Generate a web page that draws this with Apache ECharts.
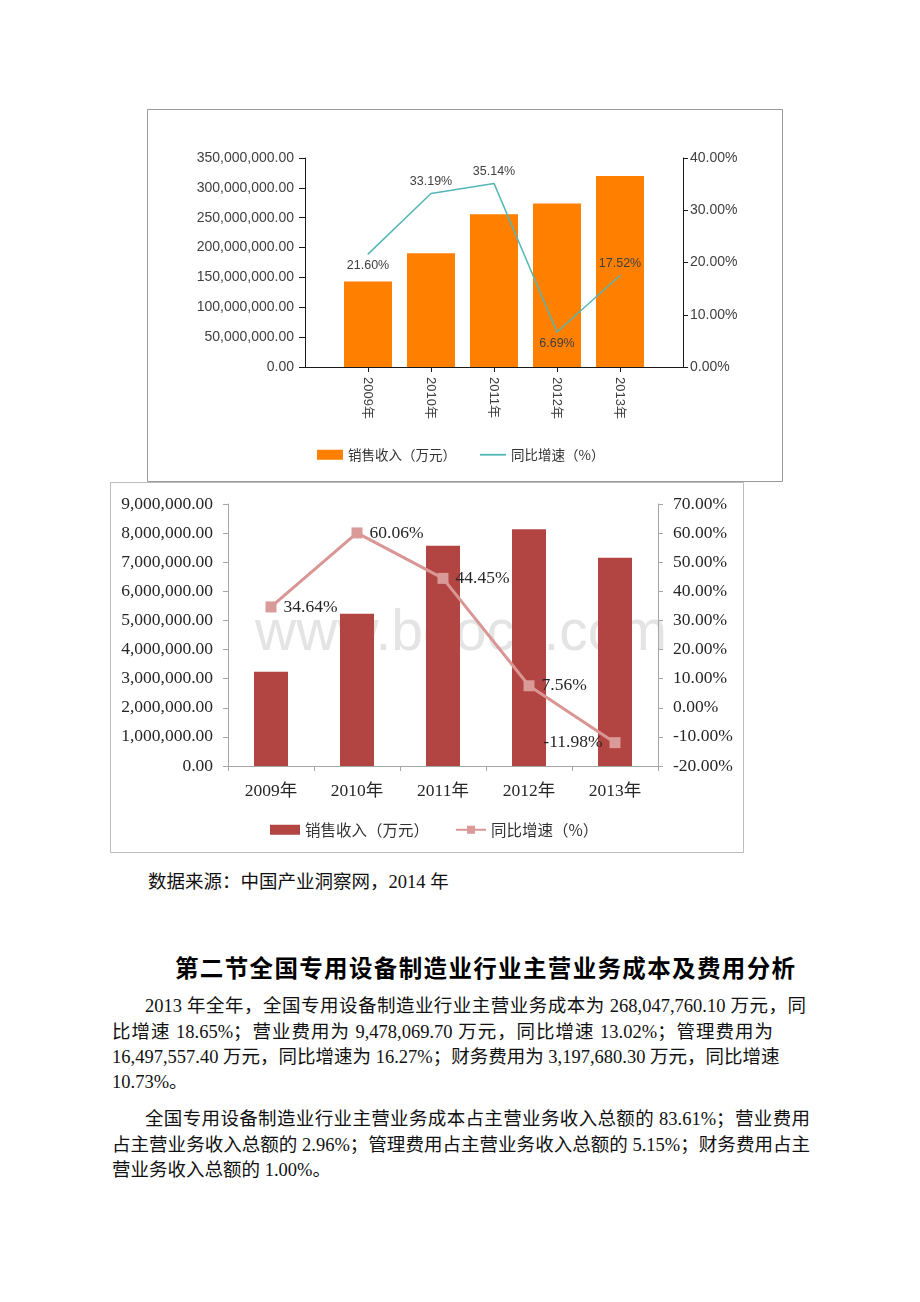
<!DOCTYPE html>
<html>
<head>
<meta charset="utf-8">
<script src="https://cdn.jsdelivr.net/npm/echarts@6/dist/echarts.min.js"></script>
<style>
  html, body { margin: 0; padding: 0; background: #fff; }
  #page { position: relative; width: 920px; height: 1302px; overflow: hidden; background: #fff; }
  #c1 { position: absolute; left: 147px; top: 109px; width: 636px; height: 373px; }
  #c2 { position: absolute; left: 110px; top: 482px; width: 634px; height: 371px; }
  .t { position: absolute; white-space: nowrap; font-family: "Liberation Serif", "Noto Sans CJK SC", serif; font-size: 18.5px; line-height: 22px; color: #111; }
  .j { text-align: justify; text-align-last: justify; }
  .h { position: absolute; white-space: nowrap; font-family: "Noto Sans CJK SC", sans-serif; font-weight: 700; font-size: 23.5px; line-height: 30px; color: #000; text-align: justify; text-align-last: justify; }
</style>
</head>
<body>
<div id="page">
  <div id="c1"></div>
  <div id="c2"></div>
  <div class="t" style="left:148px;top:871px;">数据来源：中国产业洞察网，2014 年</div>
  <div class="h" style="left:175px;top:952px;width:620px;">第二节全国专用设备制造业行业主营业务成本及费用分析</div>
  <div class="t j" style="left:145px;top:995px;width:661px;">2013 年全年，全国专用设备制造业行业主营业务成本为 268,047,760.10 万元，同</div>
  <div class="t j" style="left:112px;top:1021px;width:661px;">比增速 18.65%；营业费用为 9,478,069.70 万元，同比增速 13.02%；管理费用为</div>
  <div class="t j" style="left:112px;top:1046px;width:663px;">16,497,557.40 万元，同比增速为 16.27%；财务费用为 3,197,680.30 万元，同比增速</div>
  <div class="t" style="left:112px;top:1071px;">10.73%。</div>
  <div class="t j" style="left:145px;top:1108px;width:665px;">全国专用设备制造业行业主营业务成本占主营业务收入总额的 83.61%；营业费用</div>
  <div class="t j" style="left:112px;top:1134px;width:698px;">占主营业务收入总额的 2.96%；管理费用占主营业务收入总额的 5.15%；财务费用占主</div>
  <div class="t" style="left:112px;top:1159px;">营业务收入总额的 1.00%。</div>
</div>
<script>
// ---------- data ----------
const years = ['2009年', '2010年', '2011年', '2012年', '2013年'];
// Chart 1 (top)
const sales1 = [143000000, 190600000, 256000000, 273600000, 320000000];
const growth1 = [21.60, 33.19, 35.14, 6.69, 17.52];
// Chart 2 (bottom)
const sales2 = [3235000, 5230000, 7565000, 8134000, 7154000];
const growth2 = [34.64, 60.06, 44.45, 7.56, -11.98];
const seriesNames = ['销售收入（万元）', '同比增速（%）'];

const fmtNum = v => Number(v).toLocaleString('en-US', { minimumFractionDigits: 2, maximumFractionDigits: 2 });
const fmtPct = v => Number(v).toFixed(2) + '%';

// ---------- chart 1 ----------
const pad = arr => [null].concat(arr, [null]);
const cats1 = [''].concat(years, ['']);
const labelPos1 = ['bottom', 'top', 'top', 'bottom', 'top'];
const sans = '"Liberation Sans", "Noto Sans CJK SC", sans-serif';

const chart1 = echarts.init(document.getElementById('c1'), null, { renderer: 'canvas' });
chart1.setOption({
  animation: false,
  backgroundColor: '#fff',
  graphic: [{ type: 'rect', shape: { x: 0.5, y: 0.5, width: 635, height: 372 }, style: { fill: 'none', stroke: '#9a9a9a', lineWidth: 1 }, silent: true }],
  grid: { left: 158, top: 49, width: 378, height: 209 },
  legend: {
    left: 165, top: 334, itemWidth: 26, itemHeight: 10, itemGap: 24,
    textStyle: { fontSize: 13.5, color: '#333', fontFamily: '"Noto Sans CJK SC", sans-serif' },
    data: [
      { name: seriesNames[0], icon: 'rect' },
      { name: seriesNames[1], icon: 'path://M0,0H26V1.8H0Z' }
    ]
  },
  xAxis: {
    type: 'category', data: cats1, boundaryGap: false,
    axisLine: { lineStyle: { color: '#1a1a1a', width: 1 } },
    axisTick: { show: true, length: 5, interval: i => i > 0 && i < cats1.length - 1, lineStyle: { color: '#1a1a1a' } },
    axisLabel: { rotate: -90, margin: 10, interval: 0, fontSize: 13, color: '#404040', fontFamily: sans }
  },
  yAxis: [
    {
      type: 'value', min: 0, max: 350000000, interval: 50000000,
      axisLine: { show: true, lineStyle: { color: '#1a1a1a' } },
      axisTick: { show: true, length: 6, lineStyle: { color: '#1a1a1a' } },
      splitLine: { show: false },
      axisLabel: { formatter: fmtNum, margin: 11, fontSize: 14, color: '#404040', fontFamily: sans }
    },
    {
      type: 'value', min: 0, max: 40, interval: 10, position: 'right',
      axisLine: { show: true, lineStyle: { color: '#1a1a1a' } },
      axisTick: { show: true, length: 5, lineStyle: { color: '#1a1a1a' } },
      splitLine: { show: false },
      axisLabel: { formatter: fmtPct, margin: 7, fontSize: 14, color: '#404040', fontFamily: sans }
    }
  ],
  series: [
    {
      name: seriesNames[0], type: 'bar', data: pad(sales1), barWidth: 48,
      itemStyle: { color: '#ff7f00' }, z: 2
    },
    {
      name: seriesNames[1], type: 'line', yAxisIndex: 1, z: 3,
      data: pad(growth1.map((v, i) => ({ value: v, label: { position: labelPos1[i] } }))),
      symbol: 'circle', symbolSize: 1, showSymbol: true,
      lineStyle: { color: '#55b6b6', width: 1.5 }, itemStyle: { color: '#55b6b6' },
      label: { show: true, formatter: p => fmtPct(p.value), fontSize: 12.5, color: '#404040', fontFamily: sans, distance: 5 }
    }
  ]
});

// ---------- chart 2 ----------
const labelPos2 = ['right', 'right', 'right', 'right', 'left'];
const serif = '"Liberation Serif", "Noto Sans CJK SC", serif';
const chart2 = echarts.init(document.getElementById('c2'), null, { renderer: 'canvas' });
chart2.setOption({
  animation: false,
  backgroundColor: '#fff',
  graphic: [
    { type: 'rect', shape: { x: 0.5, y: 0.5, width: 633, height: 370 }, style: { fill: 'none', stroke: '#bdbdbd', lineWidth: 1 }, silent: true, z: 100 },
    { type: 'text', x: 351, y: 152, z: 0, silent: true,
      style: { text: 'www.bdocx.com', font: '57px "Liberation Sans"', fill: '#e4e4e4', align: 'center', verticalAlign: 'middle' } }
  ],
  grid: { left: 118, top: 22, width: 430, height: 262 },
  legend: {
    left: 155, top: 335, itemWidth: 30, itemHeight: 10, itemGap: 26,
    textStyle: { fontSize: 15.5, color: '#333', fontFamily: '"Noto Sans CJK SC", sans-serif' },
    data: [
      { name: seriesNames[0], icon: 'rect' },
      { name: seriesNames[1] }
    ]
  },
  xAxis: {
    type: 'category', data: years, boundaryGap: true,
    axisLine: { lineStyle: { color: '#a6a6a6', width: 1 } },
    axisTick: { show: true, length: 5, lineStyle: { color: '#a6a6a6' } },
    axisLabel: { margin: 17, interval: 0, fontSize: 17.5, color: '#262626', fontFamily: serif }
  },
  yAxis: [
    {
      type: 'value', min: 0, max: 9000000, interval: 1000000,
      axisLine: { show: true, lineStyle: { color: '#a6a6a6' } },
      axisTick: { show: true, length: 5, lineStyle: { color: '#a6a6a6' } },
      splitLine: { show: false },
      axisLabel: { formatter: fmtNum, margin: 15, fontSize: 17.5, color: '#262626', fontFamily: serif }
    },
    {
      type: 'value', min: -20, max: 70, interval: 10, position: 'right',
      axisLine: { show: true, lineStyle: { color: '#a6a6a6' } },
      axisTick: { show: true, length: 5, lineStyle: { color: '#a6a6a6' } },
      splitLine: { show: false },
      axisLabel: { formatter: fmtPct, margin: 15, fontSize: 17.5, color: '#262626', fontFamily: serif }
    }
  ],
  series: [
    {
      name: seriesNames[0], type: 'bar', data: sales2, barWidth: 34,
      itemStyle: { color: '#b24442' }, z: 2
    },
    {
      name: seriesNames[1], type: 'line', yAxisIndex: 1, z: 3,
      data: growth2.map((v, i) => ({ value: v, label: { position: labelPos2[i] } })),
      symbol: 'rect', symbolSize: 11,
      lineStyle: { color: '#d99694', width: 3 }, itemStyle: { color: '#d99a98' },
      label: { show: true, formatter: p => fmtPct(p.value), fontSize: 17.5, color: '#262626', fontFamily: serif, distance: 7 }
    }
  ]
});
</script>
</body>
</html>
